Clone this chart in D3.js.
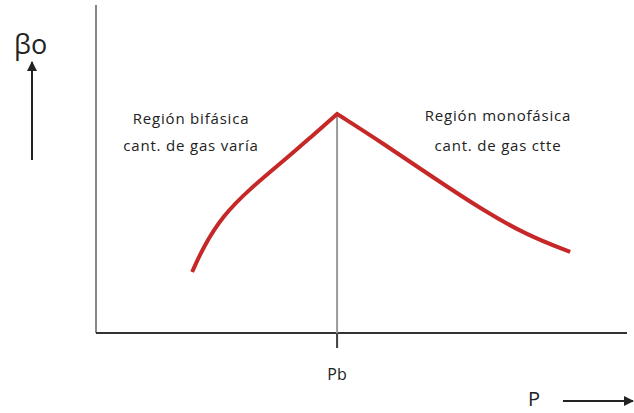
<!DOCTYPE html>
<html>
<head>
<meta charset="utf-8">
<script src="https://cdn.jsdelivr.net/npm/d3@7"></script>
<style>
  body{margin:0;background:#fff;}
  svg{display:block;}
  .lbl{font-family:"Open Sans",sans-serif;fill:#222;}
</style>
</head>
<body>
<div class="plot"></div>
<script>
// two-phase branch (below Pb) and single-phase branch (above Pb), arbitrary units 0-100
var bifasica=[[18.1,18.6],[20.2,26.2],[23.9,35.8],[29.0,44.0],[35.2,52.3],[40.3,59.5],[45.4,66.8]];
var monofasica=[[45.4,66.8],[54.0,57.9],[63.5,47.4],[72.9,37.4],[81.2,29.8],[89.3,24.7]];
var pb=45.4;
var regionLabels=[
  {x:17.9, lines:["Región bifásica","cant. de gas varía"]},
  {x:75.7, lines:["Región monofásica","cant. de gas ctte"]}
];
var yLabel="βo", xLabel="P", pbLabel="Pb";

var W=634, H=413;
var svg=d3.select(".plot").append("svg")
  .attr("width",W)
  .attr("height",H);

var x=d3.scaleLinear().domain([0,100]).range([96,627]);
var y=d3.scaleLinear().domain([0,100]).range([333,5]);

svg.append("defs").append("marker")
  .attr("id","head")
  .attr("viewBox","0 0 10 10")
  .attr("refX",9).attr("refY",5)
  .attr("markerWidth",5).attr("markerHeight",5)
  .attr("markerUnits","strokeWidth")
  .attr("orient","auto")
  .append("path")
    .attr("d","M0,0L10,5L0,10z")
    .attr("fill","#222");

// axes
svg.append("line")
  .attr("x1",x(0)).attr("x2",x(0))
  .attr("y1",y(100)).attr("y2",y(0))
  .attr("stroke","#888").attr("stroke-width",2);
svg.append("line")
  .attr("x1",x(0)).attr("x2",x(100))
  .attr("y1",y(0)).attr("y2",y(0))
  .attr("stroke","#333").attr("stroke-width",2);

// Pb marker
svg.append("line")
  .attr("x1",x(pb)).attr("x2",x(pb))
  .attr("y1",y(66.8)).attr("y2",y(0)+15)
  .attr("stroke","#999").attr("stroke-width",2);
svg.append("line")
  .attr("x1",x(pb)).attr("x2",x(pb))
  .attr("y1",y(0)).attr("y2",y(0)+15)
  .attr("stroke","#444").attr("stroke-width",2);
svg.append("text").attr("class","lbl")
  .attr("x",x(pb)).attr("y",380)
  .attr("text-anchor","middle")
  .attr("font-size","16px")
  .text(pbLabel);

// curve
var line=d3.line()
  .x(function(d){return x(d[0])})
  .y(function(d){return y(d[1])})
  .curve(d3.curveBasis);

svg.append("path")
  .attr("d",line(bifasica)+line(monofasica).replace(/^M/,"L"))
  .attr("fill","none")
  .attr("stroke","#c62828")
  .attr("stroke-width",4)
  .attr("stroke-linejoin","miter");

// region labels
regionLabels.forEach(function(r,i){
  var t=svg.append("text").attr("class","lbl")
    .attr("text-anchor","middle")
    .attr("font-size","15px")
    .attr("letter-spacing","0.8px");
  r.lines.forEach(function(s,j){
    t.append("tspan")
      .attr("x",x(r.x))
      .attr("y",(i==0?124:121)+j*(i==0?27:30))
      .text(s);
  });
});

// axis titles with arrows
svg.append("text").attr("class","lbl")
  .attr("x",14).attr("y",54)
  .attr("font-size","27px")
  .text(yLabel);
svg.append("line")
  .attr("x1",32).attr("x2",32)
  .attr("y1",160).attr("y2",62)
  .attr("stroke","#222").attr("stroke-width",2)
  .attr("marker-end","url(#head)");

svg.append("text").attr("class","lbl")
  .attr("x",528).attr("y",406)
  .attr("font-size","20px")
  .text(xLabel);
svg.append("line")
  .attr("x1",563).attr("x2",633)
  .attr("y1",401).attr("y2",401)
  .attr("stroke","#222").attr("stroke-width",2)
  .attr("marker-end","url(#head)");
</script>
</body>
</html>
